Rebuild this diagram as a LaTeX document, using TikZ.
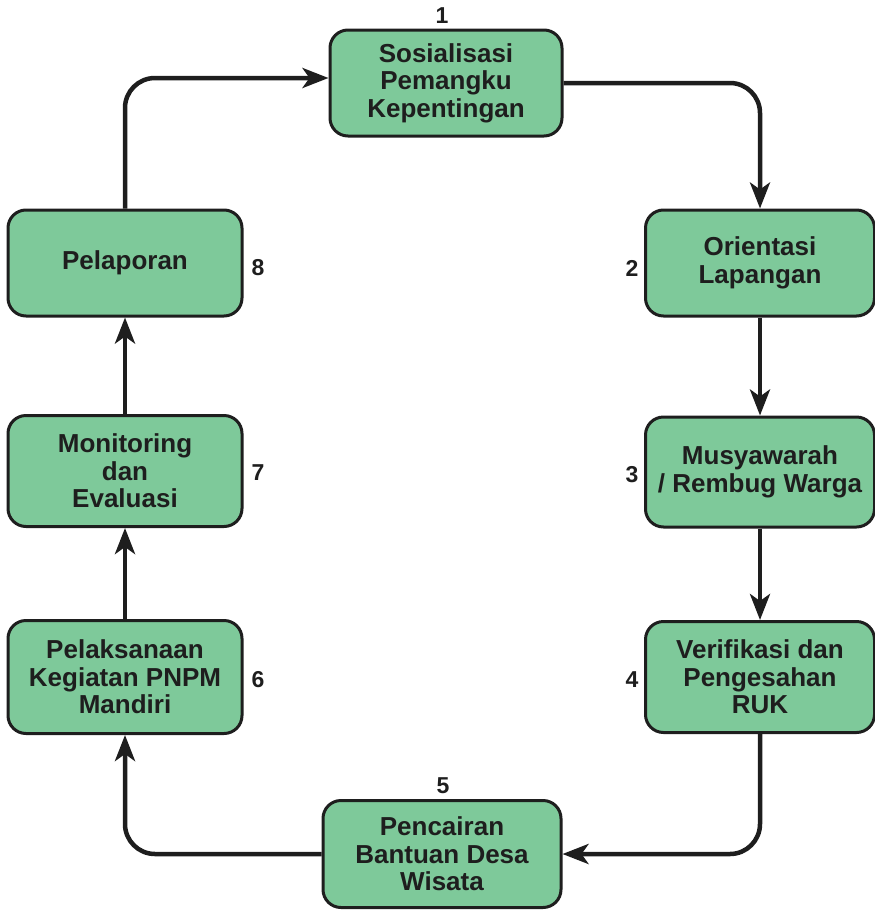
\documentclass[tikz,border=0pt]{standalone}
\usepackage{fontspec}
\setmainfont{Liberation Sans}
\usetikzlibrary{arrows.meta}
\definecolor{boxgreen}{RGB}{126,201,154}
\definecolor{ink}{RGB}{30,30,30}
\tikzset{
  x=1pt, y=-1pt,
  stepbox/.style={draw=ink, fill=boxgreen, line width=3pt, rounded corners=18pt,
    minimum width=232pt, minimum height=106pt, inner sep=0pt,
    align=center, font=\fontsize{26}{27.5}\selectfont\bfseries, text=ink},
  numlbl/.style={font=\fontsize{23}{24}\selectfont\bfseries, text=ink, inner sep=0pt},
  conn/.style={draw=ink, line width=4.5pt, rounded corners=30pt,
    -{Stealth[length=26pt,width=20pt,inset=7pt]}},
}
\begin{document}
\begin{tikzpicture}
\useasboundingbox (0,0) rectangle (875,911);
\node[stepbox] (b1) at (446,83) {Sosialisasi\\Pemangku\\Kepentingan};
\node[stepbox, minimum width=229pt] (b2) at (760,263) {Orientasi\\Lapangan};
\node[stepbox, minimum width=229pt, minimum height=110pt] (b3) at (760,472) {Musyawarah\\/ Rembug Warga};
\node[stepbox, minimum width=229pt, minimum height=111pt] (b4) at (760,677) {Verifikasi dan\\Pengesahan\\RUK};
\node[stepbox, minimum width=238pt, minimum height=107pt] (b5) at (442,854) {Pencairan\\Bantuan Desa\\Wisata};
\node[stepbox, minimum width=234pt, minimum height=113pt] (b6) at (125,677) {Pelaksanaan\\Kegiatan PNPM\\Mandiri};
\node[stepbox, minimum width=234pt, minimum height=111pt] (b7) at (125,471) {Monitoring\\dan\\Evaluasi};
\node[stepbox, minimum width=234pt] (b8) at (125,263) {Pelaporan};
\node[numlbl] (n1) at (442,16) {1};
\node[numlbl] (n2) at (632,268) {2};
\node[numlbl] (n3) at (632,475) {3};
\node[numlbl] (n4) at (632,680) {4};
\node[numlbl] (n5) at (443,786) {5};
\node[numlbl] (n6) at (258,680) {6};
\node[numlbl] (n7) at (258,473) {7};
\node[numlbl] (n8) at (258,268) {8};
\draw[conn] (b1.east) -| (b2.north);
\draw[conn] (b2) -- (b3);
\draw[conn] (b3) -- (b4);
\draw[conn] (b4.south) |- (b5.east);
\draw[conn] (b5.west) -| (b6.south);
\draw[conn] (b6) -- (b7);
\draw[conn] (b7) -- (b8);
\draw[conn] (b8.north) |- ([yshift=5pt]b1.west);
\end{tikzpicture}
\end{document}
